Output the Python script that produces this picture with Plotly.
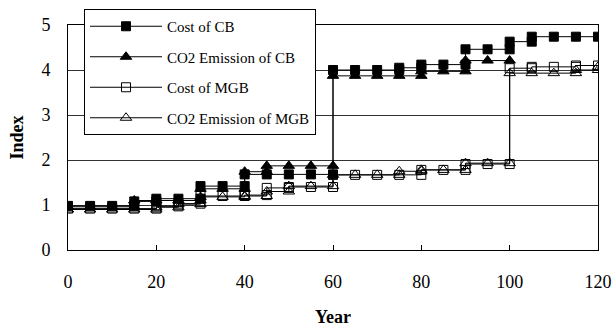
import plotly.graph_objects as go

# ---- data ----
years = [0, 5, 10, 15, 20, 25, 30, 35, 40, 45, 50, 55, 60, 65, 70, 75, 80, 85, 90, 95, 100, 105, 110, 115, 120]

cost_cb = [0.98, 0.98, 0.98, 1.08, 1.14, 1.14, 1.42, 1.42, 1.68, 1.68, 1.68, 1.68,
           4.00, 4.00, 4.00, 4.05, 4.12, 4.12, 4.46, 4.46, 4.63, 4.74, 4.74, 4.74, 4.74]

co2_cb = [0.96, 0.96, 0.96, 1.10, 1.10, 1.10, 1.36, 1.36, 1.74, 1.87, 1.87, 1.87,
          3.87, 3.87, 3.87, 3.87, 3.97, 3.97, 4.21, 4.21, 4.21]          # years 0..100

cost_mgb = [0.92, 0.92, 0.92, 0.92, 0.97, 1.03, 1.20, 1.20, 1.22, 1.38, 1.40, 1.40,
            1.67, 1.67, 1.67, 1.67, 1.78, 1.78, 1.91, 1.91, 4.04, 4.07, 4.07, 4.10, 4.10]

co2_mgb = [0.90, 0.90, 0.90, 0.90, 0.95, 1.02, 1.18, 1.18, 1.20, 1.30, 1.42, 1.42,
           1.67, 1.67, 1.67, 1.75, 1.78, 1.78, 1.93, 1.93, 3.93, 3.93, 3.93, 4.00, 4.07]

series_names = ["Cost of CB", "CO2 Emission of CB", "Cost of MGB", "CO2 Emission of MGB"]
x_ticks = [0, 20, 40, 60, 80, 100, 120]
y_ticks = [0, 1, 2, 3, 4, 5]


def step_points(xs, vs):
    """Step function: at each change year keep a point at the old and the new level."""
    px, py = [xs[0]], [vs[0]]
    for i in range(1, len(vs)):
        if vs[i] != vs[i - 1]:
            px.append(xs[i])
            py.append(vs[i - 1])
        px.append(xs[i])
        py.append(vs[i])
    return px, py


FONT = "Liberation Serif, Times New Roman, serif"

styles = [
    dict(symbol="square", size=9),
    dict(symbol="triangle-up", size=10),
    dict(symbol="square-open", size=9),
    dict(symbol="triangle-up-open", size=10),
]
values = [cost_cb, co2_cb, cost_mgb, co2_mgb]

W, H = 613, 333
M_L, M_R, M_T, M_B = 68, 15, 5, 83
PLOT_TOP_PX = 25                       # top of the drawing area
paper_h = H - M_T - M_B
y_dom_top = (H - M_B - PLOT_TOP_PX) / paper_h

fig = go.Figure()
for i, (name, vals, st) in enumerate(zip(series_names, values, styles)):
    px, py = step_points(years[:len(vals)], vals)
    fig.add_trace(go.Scatter(
        x=px, y=py, mode="lines+markers", name=name,
        legendgroup=f"g{i}",
        line=dict(color="black", width=1),
        marker=dict(symbol=st["symbol"], size=st["size"], color="black",
                    line=dict(color="black", width=1)),
    ))

fig.update_layout(
    width=W, height=H,
    margin=dict(l=M_L, r=M_R, t=M_T, b=M_B, autoexpand=False),
    paper_bgcolor="white", plot_bgcolor="white",
    font=dict(family=FONT, color="black", size=18),
    showlegend=True,
    legend=dict(
        x=(84 - M_L) / (W - M_L - M_R), y=(H - M_B - 9) / paper_h,
        xanchor="left", yanchor="top",
        bgcolor="white", bordercolor="black", borderwidth=1,
        font=dict(family=FONT, size=15, color="black"),
        itemwidth=72, tracegroupgap=8, traceorder="grouped",
    ),
    xaxis=dict(
        automargin=False,
        range=[0, 120], tickvals=x_ticks, ticktext=[str(v) for v in x_ticks],
        showgrid=False, zeroline=False,
        showline=True, linecolor="black", linewidth=1, mirror=True,
        ticks="inside", ticklen=5, tickcolor="black",
        tickfont=dict(family=FONT, size=18),
        ticklabelstandoff=15,
        title=dict(text="<b>Year</b>", font=dict(family=FONT, size=18), standoff=19),
    ),
    yaxis=dict(
        automargin=False,
        domain=[0, y_dom_top],
        range=[0, 5], tickvals=y_ticks, ticktext=[str(v) for v in y_ticks],
        showgrid=True, gridcolor="#333333", gridwidth=1, zeroline=False,
        showline=True, linecolor="black", linewidth=1, mirror=True,
        ticks="", tickfont=dict(family=FONT, size=18),
        ticklabelstandoff=13,
        title=dict(text="<b>Index</b>", font=dict(family=FONT, size=18), standoff=13),
    ),
)

fig.write_html("out.html")
